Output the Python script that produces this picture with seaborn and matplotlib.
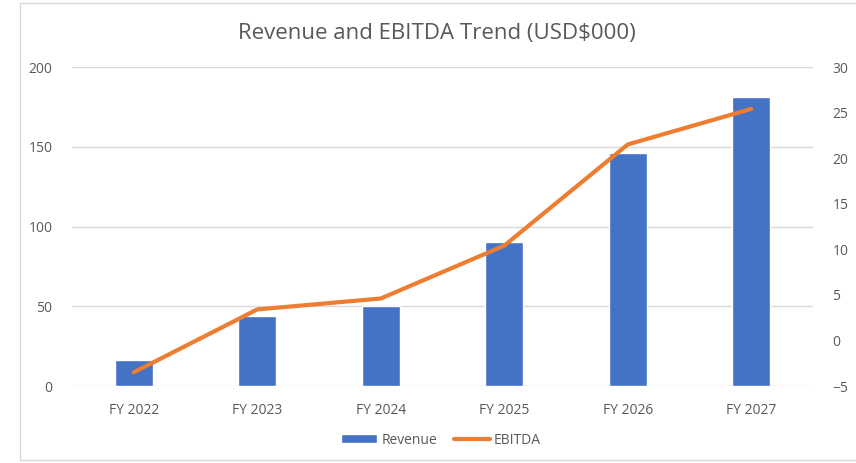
import seaborn as sns
import matplotlib.pyplot as plt
import pandas as pd
from matplotlib.patches import Rectangle

# data
years = ['FY 2022', 'FY 2023', 'FY 2024', 'FY 2025', 'FY 2026', 'FY 2027']
revenue = [16, 44, 50, 90, 146, 181]
ebitda = [-3.5, 3.4, 4.6, 10.4, 21.5, 25.4]

df = pd.DataFrame({'year': years, 'revenue': revenue, 'ebitda': ebitda})

sns.set_style('white')
plt.rcParams['font.family'] = ['Open Sans', 'DejaVu Sans']

fig = plt.figure(figsize=(8.56, 4.63), dpi=100)
ax = fig.add_axes([72 / 856, 77 / 463, 741 / 856, 319 / 463])

gray = '#595959'

# revenue bars
sns.barplot(x='year', y='revenue', data=df, color='#4472C4', width=0.31,
            saturation=1, ax=ax, label='Revenue', zorder=2)
ax.set_ylim(0, 200)
ax.set_yticks([0, 50, 100, 150, 200])
ax.set_xlim(-0.5, 5.5)
ax.grid(axis='y', color='#D9D9D9', linewidth=1, zorder=0)
ax.set_axisbelow(True)
for s in ax.spines.values():
    s.set_visible(False)
ax.tick_params(axis='both', length=0, colors=gray, labelsize=10)
ax.tick_params(axis='x', pad=12)
ax.tick_params(axis='y', pad=14)
ax.set_xlabel('')
ax.set_ylabel('')

# ebitda line on second axis
ax2 = ax.twinx()
sns.lineplot(x=list(range(len(years))), y='ebitda', data=df, color='#ED7D31',
             linewidth=3, ax=ax2, label='EBITDA', zorder=3)
ax2.set_ylim(-5, 30)
ax2.set_yticks([-5, 0, 5, 10, 15, 20, 25, 30])
for s in ax2.spines.values():
    s.set_visible(False)
ax2.tick_params(axis='y', length=0, colors=gray, labelsize=10, pad=14)
ax2.set_ylabel('')
ax2.grid(False)

# legend at bottom
h1, l1 = ax.get_legend_handles_labels()
h2, l2 = ax2.get_legend_handles_labels()
ax2.get_legend().remove()
if ax.get_legend():
    ax.get_legend().remove()
fig.legend(h1 + h2, l1 + l2, loc='center', bbox_to_anchor=(441 / 856, 1 - 440 / 463),
           ncol=2, frameon=False, fontsize=10, labelcolor=gray,
           handlelength=2.6, handleheight=0.6, handletextpad=0.3, columnspacing=1.2)

fig.text(437 / 856, 1 - 33 / 463, 'Revenue and EBITDA Trend (USD$000)', ha='center',
         va='center', fontsize=16, color=gray)

# chart border
fig.patches.append(Rectangle((20 / 856, 3 / 463), 1, 457 / 463, transform=fig.transFigure,
                             fill=False, edgecolor='#D9D9D9', linewidth=1))

fig.savefig('out.png', dpi=100)
